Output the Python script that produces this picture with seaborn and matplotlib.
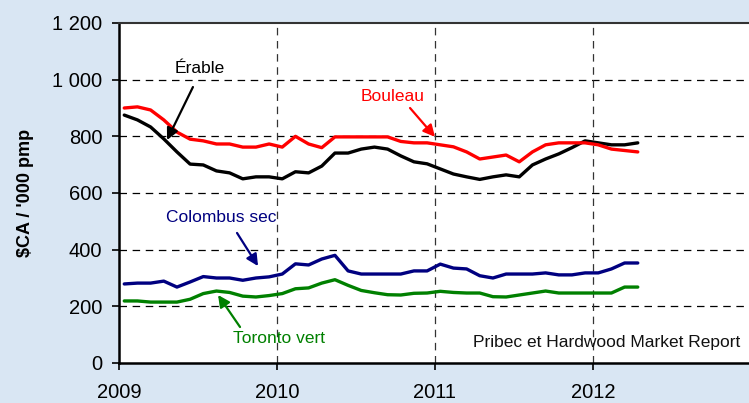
import numpy as np
import pandas as pd
import matplotlib
matplotlib.use("Agg")
import matplotlib.pyplot as plt
import seaborn as sns

# ---- data (monthly, Jan 2009 .. Apr 2012), $CA / '000 pmp ----
erable = [875, 858, 833, 791, 745, 702, 699, 678, 671, 650,
          657, 657, 650, 675, 671, 695, 741, 741, 755, 762,
          755, 731, 710, 703, 685, 667, 657, 648, 657, 664,
          657, 699, 720, 738, 760, 784, 777, 770, 770, 777]
bouleau = [900, 904, 893, 858, 815, 790, 784, 773, 773, 762,
           762, 773, 762, 800, 773, 760, 798, 798, 798, 798,
           798, 782, 777, 777, 770, 763, 745, 720, 727, 734,
           710, 745, 770, 777, 777, 777, 770, 755, 750, 745]
colombus = [279, 282, 282, 289, 268, 286, 305, 300, 300, 292,
            300, 304, 314, 350, 346, 367, 380, 325, 314, 314,
            314, 314, 325, 325, 349, 335, 332, 308, 300, 314,
            314, 314, 318, 311, 311, 318, 318, 332, 353, 353]
toronto = [219, 219, 215, 215, 215, 225, 245, 254, 249, 236,
           233, 238, 245, 262, 265, 282, 294, 274, 256, 248,
           241, 240, 246, 247, 253, 249, 247, 247, 234, 233,
           240, 247, 254, 247, 247, 247, 247, 247, 268, 268]
series_names = ["Érable", "Bouleau", "Colombus sec", "Toronto vert"]
series_colors = ["#000000", "#ff0000", "#000080", "#008000"]
year_ticks = [2009, 2010, 2011, 2012]
y_ticks = [0, 200, 400, 600, 800, 1000, 1200]
y_labels = ["0", "200", "400", "600", "800", "1 000", "1 200"]

n = len(erable)
x_pos = 2009 + (np.arange(n) + 0.4) / 12.0
df = pd.concat([
    pd.DataFrame({"x": x_pos, "v": vals, "s": name})
    for name, vals in zip(series_names, [erable, bouleau, colombus, toronto])
], ignore_index=True)

W, H = 749, 403
fig = plt.figure(figsize=(W / 100, H / 100), dpi=100)
fig.patch.set_facecolor("#d9e6f3")
ax = fig.add_axes([119 / W, 40 / H, 632 / W, 340 / H])
ax.set_facecolor("white")

sns.lineplot(data=df, x="x", y="v", hue="s", hue_order=series_names,
             palette=series_colors, linewidth=2.4, legend=False, ax=ax,
             sort=False, solid_joinstyle="round", solid_capstyle="round")

ax.set_xlim(2009, 2013)
ax.set_ylim(0, 1200)
ax.set_xticks(year_ticks)
ax.set_xticklabels([str(y) for y in year_ticks])
ax.set_yticks(y_ticks)
ax.set_yticklabels(y_labels)

fam = ["Liberation Sans", "DejaVu Sans"]
for lab in ax.get_xticklabels() + ax.get_yticklabels():
    lab.set_fontfamily(fam)
    lab.set_fontsize(14.5)
    lab.set_color("black")
ax.tick_params(axis="x", direction="out", length=5, width=1.2, pad=9.5, colors="black")
ax.tick_params(axis="y", direction="out", length=5, width=1.2, pad=7, colors="black")

# grid: dashed lines (not at the border values)
for yv in y_ticks[1:-1]:
    ax.axhline(yv, color="black", lw=0.9, ls=(0, (6, 4.5)), zorder=0.5)
for xv in year_ticks[1:]:
    ax.axvline(xv, color="#333333", lw=0.9, ls=(0, (6, 4.5)), zorder=0.5)

for side in ["left", "bottom"]:
    ax.spines[side].set_linewidth(1.8)
    ax.spines[side].set_color("black")
ax.spines["top"].set_linewidth(1.5)
ax.spines["top"].set_color("#333333")
ax.spines["right"].set_visible(False)

ax.set_xlabel("")
ax.set_ylabel("\\$CA / '000 pmp", fontsize=13, fontweight="bold", family=fam)
ax.yaxis.set_label_coords(-0.134, 0.5)

ann = [
    # text, color, text pos, arrow start, arrow tip
    ("Érable", "#000000", (2009.513, 1041), (2009.468, 974), (2009.304, 787)),
    ("Bouleau", "#ff0000", (2010.734, 939), (2010.842, 900), (2011.0, 798)),
    ("Colombus sec", "#000080", (2009.646, 515), (2009.747, 459), (2009.88, 342)),
    ("Toronto vert", "#008000", (2010.013, 85), (2009.766, 127), (2009.627, 240)),
]
for txt, col, tpos, a0, a1 in ann:
    ax.text(tpos[0], tpos[1], txt, color=col, fontsize=12.5, family=fam,
            ha="center", va="center")
    ax.annotate("", xy=a1, xytext=a0,
                arrowprops=dict(arrowstyle="-|>,head_length=0.7,head_width=0.35",
                                color=col, lw=1.6, shrinkA=0, shrinkB=0))

ax.text(2012.93, 71, "Pribec et Hardwood Market Report", color="#111111",
        fontsize=12.5, family=fam, ha="right", va="center")

fig.savefig("out.png", dpi=100, facecolor=fig.get_facecolor())
